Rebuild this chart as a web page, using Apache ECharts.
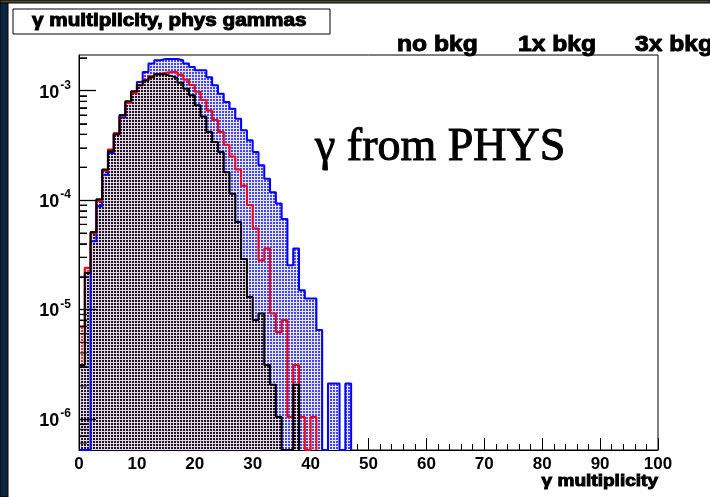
<!DOCTYPE html>
<html>
<head>
<meta charset="utf-8">
<script src="https://cdn.jsdelivr.net/npm/echarts@6/dist/echarts.min.js"></script>
<style>
  html, body { margin: 0; padding: 0; background: #ffffff; }
  #chart { width: 710px; height: 497px; }
</style>
</head>
<body>
<div id="chart"></div>
<script>
// Photon multiplicity per event, normalised, one entry per unit bin (bin i covers [i, i+1)).
const noBkg = [
  3.1e-6, 2.15e-5, 5.1e-5, 1.02e-4, 1.9e-4, 2.8e-4, 4.0e-4, 6.0e-4, 8.0e-4, 9.9e-4,
  1.12e-3, 1.24e-3, 1.33e-3, 1.41e-3, 1.41e-3, 1.36e-3, 1.31e-3, 1.18e-3, 1.04e-3, 9.1e-4,
  7.35e-4, 5.8e-4, 4.2e-4, 3.4e-4, 2.75e-4, 1.8e-4, 1.14e-4, 6.3e-5, 2.9e-5, 1.3e-5,
  8.0e-6, 9.2e-6, 3.1e-6, 2.05e-6, 1.04e-6, 0, 0, 2.05e-6
];
const bkg1x = [
  7.0e-6, 2.4e-5, 5.0e-5, 9.8e-5, 1.85e-4, 2.9e-4, 4.1e-4, 5.9e-4, 7.7e-4, 9.5e-4,
  1.12e-3, 1.25e-3, 1.36e-3, 1.42e-3, 1.46e-3, 1.48e-3, 1.48e-3, 1.40e-3, 1.26e-3, 1.13e-3,
  9.8e-4, 8.2e-4, 6.6e-4, 5.4e-4, 4.2e-4, 3.2e-4, 2.5e-4, 1.9e-4, 1.35e-4, 9.0e-5,
  5.5e-5, 2.8e-5, 3.6e-5, 9.2e-6, 6.2e-6, 8.0e-6, 1.04e-6, 3.1e-6, 1.04e-6, 0,
  1.04e-6
];
const bkg3x = [
  0, 0, 4.2e-5, 8.8e-5, 1.7e-4, 2.7e-4, 4.0e-4, 5.7e-4, 7.9e-4, 9.8e-4,
  1.2e-3, 1.48e-3, 1.77e-3, 1.9e-3, 1.95e-3, 1.95e-3, 1.95e-3, 1.9e-3, 1.77e-3, 1.65e-3,
  1.54e-3, 1.54e-3, 1.33e-3, 1.12e-3, 9.4e-4, 7.9e-4, 6.85e-4, 5.55e-4, 4.35e-4, 3.52e-4,
  2.75e-4, 2.08e-4, 1.57e-4, 1.18e-4, 9.3e-5, 6.7e-5, 2.54e-5, 3.6e-5, 1.5e-5, 1.26e-5,
  1.26e-5, 6.5e-6, 0, 2.1e-6, 2.1e-6, 0, 2.1e-6
];
const seriesNames = ['no bkg', '1x bkg', '3x bkg'];
const xTickLabels = [0, 10, 20, 30, 40, 50, 60, 70, 80, 90, 100];
const yDecades = [1e-6, 1e-5, 1e-4, 1e-3];
const yRange = [5.19e-7, 2.12e-3];
const titleText = 'γ multiplicity, phys gammas';
const xTitle = 'γ multiplicity';
const noteText = 'γ from PHYS';

const FONT = '"Liberation Sans", Arial, Helvetica, sans-serif';
const SERIF = '"Liberation Serif", "Times New Roman", serif';

// Empty bins sit on the bottom of the frame, as ROOT draws them on a log scale.
function histPoints(vals) {
  const pts = vals.map((v, i) => [i, v > 0 ? v : yRange[0]]);
  pts.push([vals.length, yRange[0]]);
  return pts;
}

// Small repeating tile used as a dotted hatch fill.
function dotTile(bg, dot, size, dotW, dotH) {
  const c = document.createElement('canvas');
  c.width = size; c.height = size;
  const g = c.getContext('2d');
  if (bg) { g.fillStyle = bg; g.fillRect(0, 0, size, size); }
  g.fillStyle = dot;
  g.fillRect(0, 0, dotW, dotH);
  return c;
}
const fillBlack = { image: dotTile('#e2d6e0', '#1c1426', 3, 2, 2), repeat: 'repeat' };
const fillBlue  = { image: dotTile('#e6e6ff', '#4646f4', 3, 2, 2), repeat: 'repeat' };
const fillRed   = { image: dotTile('#fbe6e6', '#ff2a2a', 3, 2, 2), repeat: 'repeat' };

// ROOT-style minor ticks on the log axis at 2..9 x 10^n.
const minorTickValues = [];
for (let e = -7; e <= -3; e++) {
  for (let k = 2; k <= 9; k++) {
    const v = k * Math.pow(10, e);
    if (v > yRange[0] && v < yRange[1]) minorTickValues.push(v);
  }
}

function histSeries(name, vals, color, opts) {
  return Object.assign({
    name: name,
    type: 'line',
    step: 'end',
    data: histPoints(vals),
    showSymbol: false,
    symbol: 'none',
    clip: true,
    animation: false,
    lineStyle: { color: color, width: 2 },
    itemStyle: { color: color }
  }, opts);
}

const chart = echarts.init(document.getElementById('chart'), null, { renderer: 'canvas' });

chart.setOption({
  animation: false,
  backgroundColor: '#ffffff',
  grid: {
    left: 79, right: 52, top: 55, bottom: 47, outerBoundsMode: 'none',
    show: true, borderColor: '#000', borderWidth: 1
  },
  xAxis: {
    type: 'value', min: 0, max: 100, interval: 10,
    axisLine: { show: true, lineStyle: { color: '#000', width: 1 } },
    axisTick: { show: true, inside: true, length: 12, lineStyle: { color: '#000' } },
    minorTick: { show: true, splitNumber: 5, length: 6, lineStyle: { color: '#000' } },
    splitLine: { show: false },
    axisLabel: {
      color: '#000', fontFamily: FONT, fontWeight: 'bold', fontSize: 17, margin: 6,
      formatter: v => (xTickLabels.indexOf(v) >= 0 ? String(v) : '')
    }
  },
  yAxis: {
    type: 'log', logBase: 10, min: yRange[0], max: yRange[1],
    zlevel: 1,
    axisLine: { show: true, lineStyle: { color: '#000', width: 1 } },
    axisTick: { show: true, inside: true, length: 17, lineStyle: { color: '#000', width: 1.3 } },
    splitLine: { show: false },
    axisLabel: {
      showMinLabel: false, showMaxLabel: false, margin: 8,
      formatter: v => '{b|10}{s|' + Math.round(Math.log10(v)) + '}',
      rich: {
        b: { fontFamily: FONT, fontWeight: 'bold', fontSize: 18, color: '#000', lineHeight: 22, verticalAlign: 'bottom' },
        s: { fontFamily: FONT, fontWeight: 'bold', fontSize: 12, color: '#000', lineHeight: 22, verticalAlign: 'top', padding: [0, 0, 9, 1] }
      }
    }
  },
  series: [
    // hatch of the 1x sample sits underneath, visible where the 3x fill is absent
    histSeries(seriesNames[1] + ' fill', bkg1x, '#ff0000', {
      lineStyle: { width: 0, color: '#ff0000' },
      areaStyle: { origin: 'start', color: fillRed, opacity: 1 }
    }),
    histSeries(seriesNames[2], bkg3x, '#0000ff', {
      areaStyle: { origin: 'start', color: fillBlue, opacity: 1 }
    }),
    histSeries(seriesNames[1], bkg1x, '#ff0000', {}),
    histSeries(seriesNames[0], noBkg, '#000000', {
      areaStyle: { origin: 'start', color: fillBlack, opacity: 1 }
    }),
    // minor ticks: short rectangles anchored on the left edge
    {
      name: 'y minor ticks',
      type: 'scatter',
      zlevel: 1,
      data: minorTickValues.map(v => [0, v]),
      symbol: 'rect',
      symbolSize: [8, 1.3],
      symbolOffset: [4, 0],
      itemStyle: { color: '#000' },
      clip: false,
      animation: false
    }
  ],
  graphic: [
    // left margin strip and outer borders of the canvas
    { type: 'rect', shape: { x: 0, y: 0, width: 8, height: 497 }, style: { fill: '#0f2440' }, z: 100 },
    { type: 'rect', shape: { x: 0, y: 0, width: 710, height: 3 }, style: { fill: '#4a4a3a' }, z: 100 },
    { type: 'line', shape: { x1: 8, y1: 494.5, x2: 710, y2: 494.5 }, style: { stroke: '#8a8a8a', lineWidth: 2 }, z: 100 },
    // title pave
    { type: 'rect', shape: { x: 13, y: 9, width: 317, height: 25 }, style: { fill: '#fff', stroke: '#6a6a6a', lineWidth: 2 }, z: 100 },
    { type: 'text', x: 32, y: 21.5, scaleX: 1.15, z: 101,
      style: { text: titleText, fill: '#000', font: 'bold 18px ' + FONT, textVerticalAlign: 'middle', textAlign: 'left' } },
    // legend
    { type: 'line', shape: { x1: 375, y1: 45, x2: 396, y2: 45 }, style: { stroke: '#000', lineWidth: 2 }, z: 100 },
    { type: 'text', x: 397, y: 45, scaleX: 1.12, z: 101,
      style: { text: seriesNames[0], fill: '#000', font: 'bold 22px ' + FONT, textVerticalAlign: 'middle' } },
    { type: 'line', shape: { x1: 494, y1: 45, x2: 516, y2: 45 }, style: { stroke: '#ff0000', lineWidth: 2 }, z: 100 },
    { type: 'text', x: 518, y: 45, scaleX: 1.12, z: 101,
      style: { text: seriesNames[1], fill: '#000', font: 'bold 22px ' + FONT, textVerticalAlign: 'middle' } },
    { type: 'line', shape: { x1: 612, y1: 45, x2: 634, y2: 45 }, style: { stroke: '#0000ff', lineWidth: 2 }, z: 100 },
    { type: 'text', x: 635, y: 45, scaleX: 1.12, z: 101,
      style: { text: seriesNames[2], fill: '#000', font: 'bold 22px ' + FONT, textVerticalAlign: 'middle' } },
    // axis title, right-aligned to the end of the x axis
    { type: 'text', x: 658, y: 481, scaleX: 1.12, z: 101,
      style: { text: xTitle, fill: '#000', font: 'bold 17px ' + FONT, textAlign: 'right', textVerticalAlign: 'middle' } },
    // annotation
    { type: 'text', x: 315, y: 148, z: 101,
      style: { text: noteText, fill: '#000', font: '46px ' + SERIF, textVerticalAlign: 'middle' } }
  ]
});

// Inward y ticks on their own layer, placed through the log axis scale.
const x0 = chart.convertToPixel({ xAxisIndex: 0 }, 0);
function yTick(v, len) {
  const y = Math.round(chart.convertToPixel({ yAxisIndex: 0 }, v)) + 0.5;
  return { type: 'line', zlevel: 2, shape: { x1: x0, y1: y, x2: x0 + len, y2: y }, style: { stroke: '#000', lineWidth: 1 } };
}
if (isFinite(x0)) {
  chart.setOption({
    graphic: yDecades.map(v => yTick(v, 17)).concat(minorTickValues.map(v => yTick(v, 8)))
  });
}
</script>
</body>
</html>
